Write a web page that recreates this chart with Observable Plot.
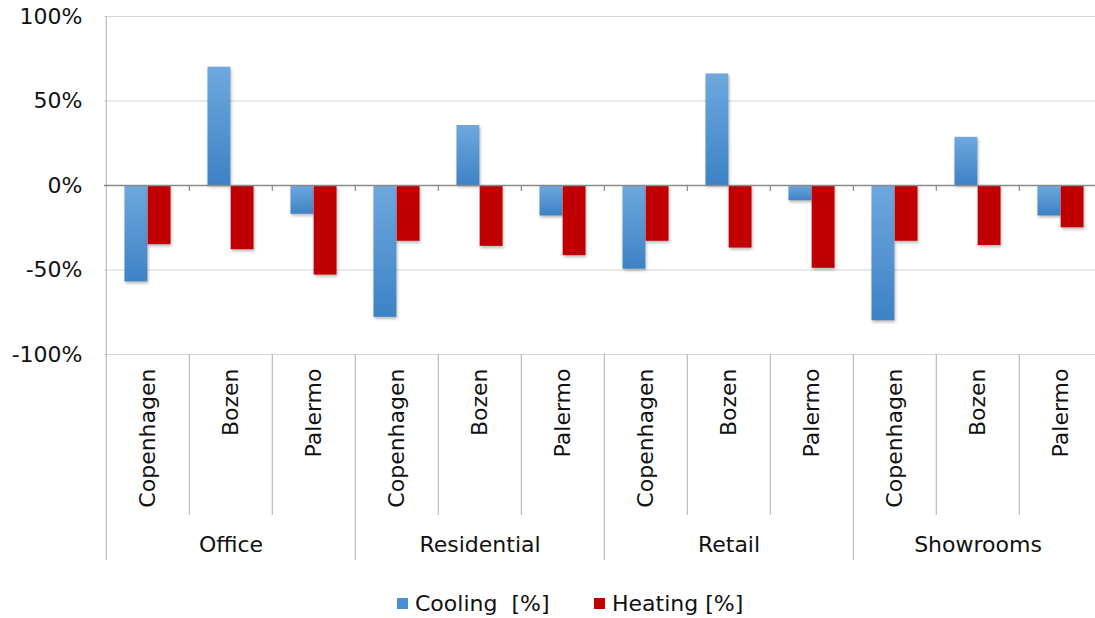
<!DOCTYPE html>
<html>
<head>
<meta charset="utf-8">
<script src="https://cdn.jsdelivr.net/npm/d3@7"></script>
<script src="https://cdn.jsdelivr.net/npm/@observablehq/plot@0.6"></script>
<style>
  body { margin: 0; background: #fff; font-family: "DejaVu Sans", sans-serif; }
  #chart svg g[aria-label="bar"] { filter: drop-shadow(1px 2px 1.5px rgba(0,0,0,0.28)); }
  .legend { position: relative; height: 38px; font-size: 22px; color: #111; }
  .legend span.item { position: absolute; top: 11px; display: flex; align-items: center; white-space: pre; }
  .legend .sw { display: inline-block; width: 11px; height: 11px; margin-right: 7px; }
</style>
</head>
<body>
<div id="chart"></div>
<div class="legend" id="legend"></div>
<script>
// Building types and the three climates compared within each
const groups = ["Office", "Residential", "Retail", "Showrooms"];
const cities = ["Copenhagen", "Bozen", "Palermo"];

// Change in energy demand, one value per group × city (in the order above)
const cooling = [-0.57, 0.70, -0.17, -0.78, 0.355, -0.18, -0.495, 0.66, -0.09, -0.80, 0.285, -0.18];
const heating = [-0.35, -0.38, -0.53, -0.33, -0.36, -0.415, -0.33, -0.37, -0.49, -0.33, -0.355, -0.25];

const yTicks = [-1, -0.5, 0, 0.5, 1];
const series = [
  {name: "Cooling  [%]", color: "#4a8fd2"},
  {name: "Heating [%]", color: "#c00000"}
];

const rows = [];
groups.forEach((g, gi) => cities.forEach((c, ci) => {
  const i = gi * cities.length + ci;
  rows.push({key: `${g}|${c}`, group: g, city: c, first: ci === 0, cooling: cooling[i], heating: heating[i]});
}));
const keys = rows.map(d => d.key);
const midKeys = groups.map(g => `${g}|${cities[1]}`);

const W = 1095, H = 580, plotLeft = 104, plotTop = 16, plotBottom = 354;
const xRange = [plotLeft, plotLeft + 1000];
const bw = (xRange[1] - xRange[0]) / keys.length;
const barInset = 18.5;

const pct = d => `${Math.round(d * 100)}%`;

// gradient used by the cooling bars
const gradientDefs = () => {
  const defs = d3.create("svg:defs");
  const lg = defs.append("linearGradient").attr("id", "coolGrad")
    .attr("x1", 0).attr("y1", 0).attr("x2", 0).attr("y2", 1);
  lg.append("stop").attr("offset", "0%").attr("stop-color", "#6ea8de");
  lg.append("stop").attr("offset", "100%").attr("stop-color", "#3d82c6");
  return defs.node();
};

const chart = Plot.plot({
  width: W,
  height: H,
  marginLeft: plotLeft,
  marginRight: 0,
  marginTop: plotTop,
  marginBottom: H - plotBottom,
  style: {fontFamily: "DejaVu Sans, sans-serif", fontSize: "22px", color: "#111", overflow: "hidden"},
  x: {type: "band", domain: keys, range: xRange, padding: 0,
      tickRotate: -90, tickSize: 0, tickPadding: 14, tickFormat: d => d.split("|")[1], label: null},
  y: {domain: [-1, 1], ticks: yTicks, tickFormat: pct, tickSize: 0, tickPadding: 22, label: null},
  marks: [
    gradientDefs,
    // horizontal gridlines
    Plot.ruleY(yTicks.filter(d => d !== 0), {stroke: "#d6d6d6", strokeWidth: 1.2}),
    // left axis line, running down through the category labels
    Plot.ruleX([keys[0]], {x: d => d, dx: -bw / 2, stroke: "#bdbdbd", strokeWidth: 1.2, insetBottom: -206}),
    // city separators below the plot
    Plot.ruleX(rows.filter(d => !d.first), {x: "key", dx: -bw / 2, y1: -1, y2: -1,
      stroke: "#bdbdbd", strokeWidth: 1.2, insetBottom: -161}),
    // building-type separators below the plot
    Plot.ruleX(rows.filter((d, i) => d.first && i > 0), {x: "key", dx: -bw / 2, y1: -1, y2: -1,
      stroke: "#bdbdbd", strokeWidth: 1.2, insetBottom: -206}),
    // bars
    Plot.barY(rows, {x: "key", y: "cooling", fill: "url(#coolGrad)", insetLeft: barInset, insetRight: bw / 2}),
    Plot.barY(rows, {x: "key", y: "heating", fill: series[1].color, insetLeft: bw / 2, insetRight: barInset}),
    // zero axis with small ticks at the category boundaries
    Plot.ruleY([0], {stroke: "#8a8a8a", strokeWidth: 1.3}),
    Plot.ruleX(rows.filter((d, i) => i > 0), {x: "key", dx: -bw / 2, y1: 0, y2: 0,
      stroke: "#8a8a8a", strokeWidth: 1.2, insetBottom: -6}),
    // building-type labels
    Plot.text(midKeys, {x: d => d, text: (d, i) => groups[i], frameAnchor: "bottom", dy: 197,
      fill: "#111", fontSize: 22})
  ]
});
document.getElementById("chart").append(chart);

// legend
const legend = document.getElementById("legend");
const positions = [397, 594];
series.forEach((s, i) => {
  const item = document.createElement("span");
  item.className = "item";
  item.style.left = positions[i] + "px";
  const sw = document.createElement("span");
  sw.className = "sw";
  sw.style.background = s.color;
  item.append(sw, document.createTextNode(s.name));
  legend.append(item);
});
</script>
</body>
</html>
